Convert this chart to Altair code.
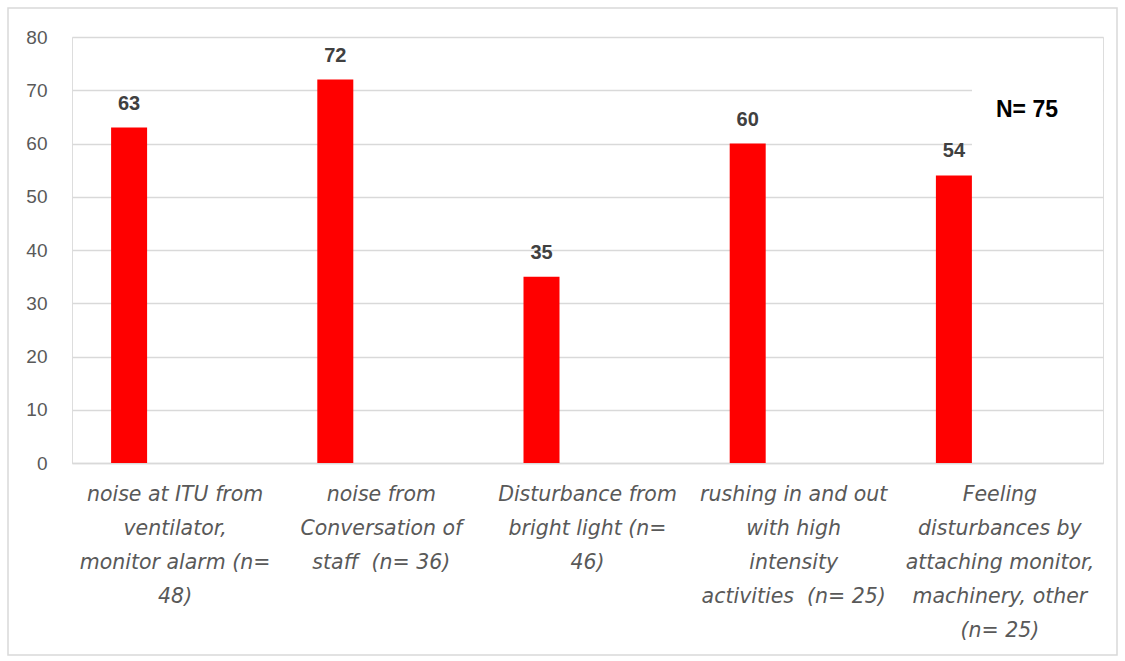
import altair as alt
import pandas as pd

# Category labels, already broken into display lines
label_lines = [
    ["noise at ITU from", "ventilator,", "monitor alarm (n=", "48)"],
    ["noise from", "Conversation of", "staff\u00a0 (n= 36)"],
    ["Disturbance from", "bright light (n=", "46)"],
    ["rushing in and out", "with high", "intensity", "activities\u00a0 (n= 25)"],
    ["Feeling", "disturbances by", "attaching monitor,", "machinery, other", "(n= 25)"],
]
values = [63, 72, 35, 60, 54]
y_ticks = [0, 10, 20, 30, 40, 50, 60, 70, 80]
total_label = "N= 75"

categories = ["|".join(lines) for lines in label_lines]
df = pd.DataFrame({"category": categories, "value": values})

W, H = 1031, 426
GRID = "#d9d9d9"
TXT = "#595959"

x_enc = alt.X(
    "category:N",
    sort=categories,
    scale=alt.Scale(paddingInner=0, paddingOuter=0),
    axis=alt.Axis(
        title=None,
        labelAngle=0,
        labelExpr="split(datum.value, '|')",
        labelFont="DejaVu Sans",
        labelFontStyle="italic",
        labelFontSize=20.5,
        labelColor=TXT,
        labelLineHeight=34,
        labelPadding=21,
        labelBaseline="top",
        labelLimit=0,
        ticks=False,
        domainColor=GRID,
        domainWidth=1.5,
        grid=False,
    ),
)
y_scale = alt.Scale(domain=[0, 80], nice=False)
y_enc = alt.Y(
    "value:Q",
    scale=y_scale,
    axis=alt.Axis(
        title=None,
        values=y_ticks,
        labelFont="Liberation Sans",
        labelFontSize=19,
        labelColor=TXT,
        labelPadding=25,
        ticks=False,
        domain=False,
        gridColor=GRID,
        gridWidth=1.5,
    ),
)

base = alt.Chart(df)

bars = base.mark_bar(color="#ff0000", size=36, xOffset=-46).encode(x=x_enc, y=y_enc)

labels = base.mark_text(
    xOffset=-46, dy=-24, fontSize=20, fontWeight="bold",
    font="Liberation Sans", color="#404040",
).encode(x=alt.X("category:N", sort=categories), y="value:Q", text="value:Q")

# white box behind the sample size note, hiding the grid between 58 and 73
note_bg = alt.Chart(pd.DataFrame({"t": [total_label]})).mark_rect(color="white").encode(
    x=alt.value(900), x2=alt.value(1031),
    y=alt.Y(datum=73, scale=y_scale), y2=alt.Y2(datum=58),
)
note = alt.Chart(pd.DataFrame({"t": [total_label]})).mark_text(
    fontSize=23, fontWeight="bold", font="Liberation Sans", color="#000000"
).encode(x=alt.value(955), y=alt.value(73), text="t:N")

# outer frame
frame = alt.Chart(pd.DataFrame({"t": [0]})).mark_rect(
    fill=None, stroke=GRID, strokeWidth=1.5
).encode(x=alt.value(-64), x2=alt.value(1045), y=alt.value(-29), y2=alt.value(618))

chart = (
    alt.layer(bars, note_bg, labels, note, frame)
    .properties(
        width=W, height=H,
        autosize=alt.AutoSizeParams(type="none"),
        padding={"left": 72, "top": 37, "right": 22, "bottom": 198},
    )
    .configure_view(stroke=None)
    .configure(background="white")
)

chart.save("out.html", embed_options={"renderer": "svg", "actions": False})
